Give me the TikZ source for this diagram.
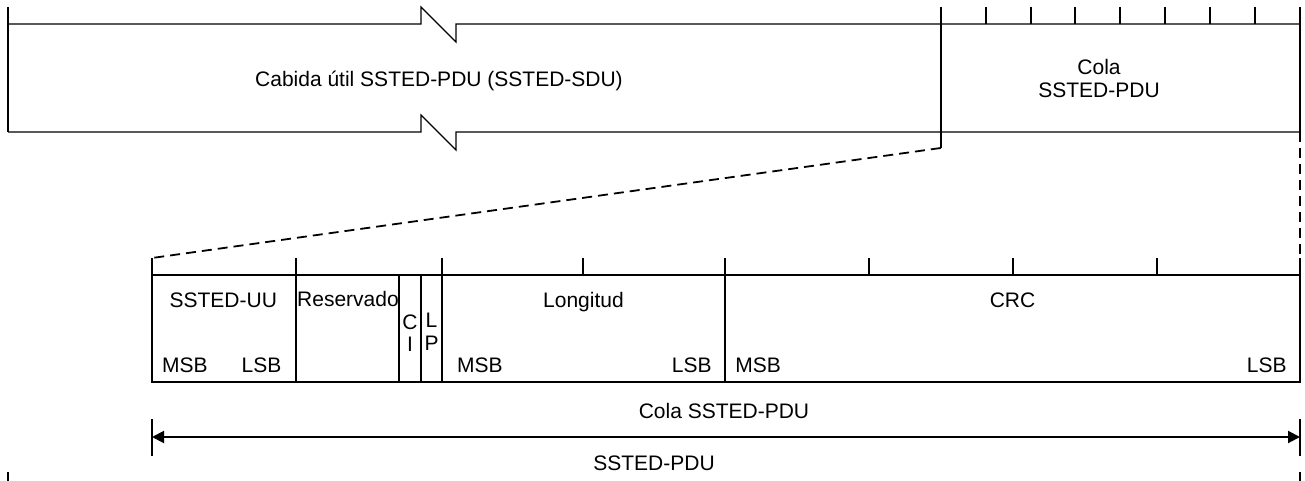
\documentclass[tikz,border=0pt]{standalone}
\usepackage{fontspec}
\setmainfont{Liberation Sans}
\usetikzlibrary{arrows.meta,positioning,calc}

\begin{document}
\begin{tikzpicture}[x=0.5pt, y=-0.5pt,
    frameline/.style={line width=0.6pt},
    bitline/.style={line width=1pt},
    zoomline/.style={line width=0.9pt, dash pattern=on 5pt off 3pt},
    txt/.style={font=\fontsize{10.5}{11.3}\selectfont, inner sep=0pt, align=center}]

  \useasboundingbox (0,0) rectangle (1305,481);

  % SSTED-PDU with break marks in the payload
  \draw[frameline] (8,7) -- (8,132);
  \draw[frameline] (8,24) -- (421,24) -- (421,7) -- (456,42) -- (456,24) -- (1300,24);
  \draw[frameline] (8,132) -- (421,132) -- (421,115) -- (456,150) -- (456,132) -- (1300,132);
  \draw[frameline] (1300,7) -- (1300,132);
  \node[txt, anchor=base] (payload) at (439,87) {Cabida útil SSTED-PDU (SSTED-SDU)};

  % Trailer, 8 octets
  \coordinate (trlTop) at (940.7,7);
  \coordinate (trlBot) at (940.7,148);
  \draw[bitline] (trlTop) -- (trlBot);
  \foreach \i in {1,...,7}
    \draw[bitline] ({940.7+44.91*\i},7) -- ++(0,17);
  \node[txt, anchor=north] (trailer) at (1099,59) {Cola\\SSTED-PDU};

  % Zoom lines
  \coordinate (fldTL) at (152,258);
  \coordinate (fldTR) at (1300,258);
  \coordinate (trlBR) at (1300,132);
  \draw[zoomline] (trlBot) -- (fldTL);
  \draw[zoomline] (trlBR) -- (fldTR);

  % Trailer fields
  \draw[frameline] (fldTL) -- (152,382) -- (1300,382) -- (fldTR);
  \draw[bitline] (152,275) -- (1300,275);
  \foreach \x in {295.7,441.7,725}
    \draw[bitline] (\x,258) -- (\x,382);
  \foreach \x in {399.3,421}
    \draw[bitline] (\x,275) -- (\x,382);
  \foreach \x in {583,869,1013,1157}
    \draw[bitline] (\x,258) -- (\x,275);

  \node[txt, anchor=base] (uu) at (223.3,307) {SSTED-UU};
  \node[txt, anchor=base west] (uumsb) at (161.7,372) {MSB};
  \node[txt, anchor=base east] (uulsb) at (281.7,372) {LSB};
  \node[txt, anchor=base] (res) at (348,306) {Reservado};
  \node[txt, anchor=north] (ci) at (410,314) {C\\I};
  \node[txt, anchor=north] (lp) at (431.5,313) {L\\P};
  \node[txt, anchor=base] (len) at (583.5,307) {Longitud};
  \node[txt, anchor=base west] (lenmsb) at (456.7,372) {MSB};
  \node[txt, anchor=base east] (lenlsb) at (712,372) {LSB};
  \node[txt, anchor=base] (crc) at (1012.5,307) {CRC};
  \node[txt, anchor=base west] (crcmsb) at (735,372) {MSB};
  \node[txt, anchor=base east] (crclsb) at (1287,372) {LSB};

  % Lengths
  \coordinate (dimL) at (152,437);
  \coordinate (dimR) at (1300,437);
  \draw[bitline] (152,419) -- (152,456);
  \draw[bitline] (1300,419) -- (1300,456);
  \draw[bitline, {Triangle[length=6pt,width=6pt]}-{Triangle[length=6pt,width=6pt]}] (dimL) -- (dimR);
  \node[txt, anchor=base] (trllbl) at (724,418) {Cola SSTED-PDU};
  \node[txt, anchor=base] (pdulbl) at (654,470) {SSTED-PDU};
  \draw[bitline] (8,472) -- (8,481);
  \draw[bitline] (1300,472) -- (1300,481);
\end{tikzpicture}
\end{document}
